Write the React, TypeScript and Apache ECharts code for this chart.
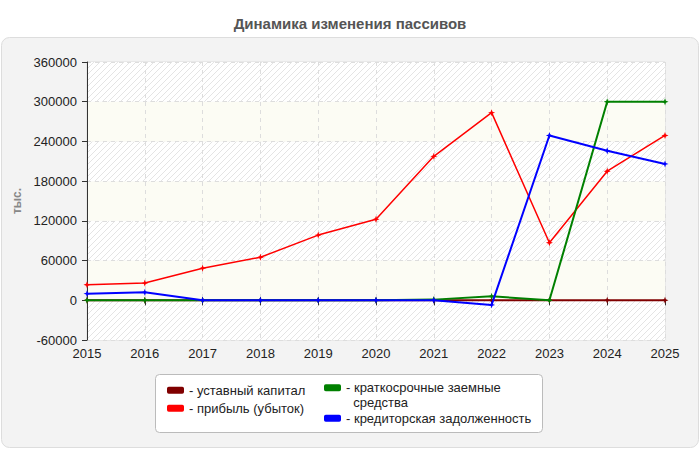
import React, { useEffect, useRef } from 'react';
import * as echarts from 'echarts';

// Годы отчётности
const years = ['2015', '2016', '2017', '2018', '2019', '2020', '2021', '2022', '2023', '2024', '2025'];

// Значения, тыс.
const ustavKapital = [0, 0, 0, 0, 0, 0, 0, 0, 0, 0, 0];
const pribyl = [23500, 26000, 48500, 65000, 98500, 122500, 217500, 283500, 87000, 195000, 249000];
const kratkoZaem = [0, 0, 0, 0, 0, 0, 1000, 6000, 0, 300000, 300000];
const kreditZadol = [10000, 12000, 0, 0, 0, 0, 0, -7000, 249000, 226000, 206000];

const seriesNames = [
  'уставный капитал',
  'прибыль (убыток)',
  'краткосрочные заемные средства',
  'кредиторская задолженность',
];
const seriesColors = ['#800000', '#ff0000', '#008000', '#0000ff'];

const FONT = '"Liberation Sans", Arial, sans-serif';

// diagonal hatch for every other band of the plot
const hatchSvg =
  '<svg xmlns="http://www.w3.org/2000/svg" width="6" height="6">' +
  '<rect width="6" height="6" fill="#ffffff"/>' +
  '<path d="M-1,1 L1,-1 M0,6 L6,0 M5,7 L7,5" stroke="#e4e4e4" stroke-width="1"/></svg>';
const hatchUrl = 'data:image/svg+xml;charset=utf-8,' + encodeURIComponent(hatchSvg);

const marker = 'path://M0,-3 L0.8,-0.8 L3,0 L0.8,0.8 L0,3 L-0.8,0.8 L-3,0 L-0.8,-0.8 Z';

const App: React.FC = () => {
  const chartRef = useRef<HTMLDivElement>(null);

  useEffect(() => {
    if (!chartRef.current) return;
    const chart = echarts.init(chartRef.current, undefined, { renderer: 'svg' });

    const values = [ustavKapital, pribyl, kratkoZaem, kreditZadol];

    // legend positions (one legend per item so the two-column layout matches)
    const legendPos = [
      { left: 167, top: 383 },
      { left: 167, top: 401 },
      { left: 324, top: 366 },
      { left: 324, top: 411 },
    ];

    const options: echarts.EChartsOption = {
      animation: false,
      title: {
        text: 'Динамика изменения пассивов',
        left: 'center',
        top: 11,
        textStyle: { fontFamily: FONT, fontSize: 15, fontWeight: 'bold', color: '#555555' },
      },
      graphic: [
        {
          type: 'rect',
          z: -10,
          silent: true,
          shape: { x: 1.5, y: 37.5, width: 697, height: 410, r: 8 },
          style: { fill: '#f3f3f3', stroke: '#dddddd', lineWidth: 1 },
        },
        {
          type: 'rect',
          z: -5,
          silent: true,
          shape: { x: 155.5, y: 374.5, width: 387, height: 58, r: 4 },
          style: { fill: '#ffffff', stroke: '#bbbbbb', lineWidth: 1 },
        },
      ],
      legend: seriesNames.map((name, i) => ({
        data: [name],
        left: legendPos[i].left,
        top: legendPos[i].top,
        padding: 0,
        selectedMode: false,
        icon: 'roundRect',
        itemWidth: 17,
        itemHeight: 7,
        itemGap: 4,
        // blank first line keeps the icon level with the first line of the wrapped name
        formatter: (n: string) =>
          n === 'краткосрочные заемные средства'
            ? ' \n- краткосрочные заемные\n  средства'
            : '- ' + n,
        textStyle: {
          fontFamily: FONT,
          fontSize: 13,
          color: '#222222',
          lineHeight: 14.5,
        },
      })),
      grid: {
        left: 87,
        right: 35,
        top: 62,
        bottom: 110,
        show: true,
        backgroundColor: 'transparent',
        borderColor: '#dddddd',
        borderWidth: 1,
      },
      xAxis: {
        type: 'category',
        data: years,
        boundaryGap: false,
        axisLine: { lineStyle: { color: '#333333', width: 1 } },
        axisTick: { show: true, length: 5, lineStyle: { color: '#333333' } },
        axisLabel: { fontFamily: FONT, fontSize: 13, color: '#222222', margin: 7 },
        splitLine: { show: true, lineStyle: { color: '#dddddd', type: [4, 4] } },
      },
      yAxis: {
        type: 'value',
        min: -60000,
        max: 360000,
        interval: 60000,
        name: 'тыс.',
        nameLocation: 'middle',
        nameGap: 59,
        nameRotate: 90,
        nameTextStyle: { fontFamily: FONT, fontSize: 12, fontWeight: 'bold', color: '#888888' },
        axisLine: { show: true, lineStyle: { color: '#333333', width: 1 } },
        axisTick: { show: true, length: 5, lineStyle: { color: '#333333' } },
        axisLabel: {
          fontFamily: FONT,
          fontSize: 13,
          color: '#222222',
          margin: 10,
          formatter: (v: number) => String(v),
        },
        splitLine: { show: true, lineStyle: { color: '#dddddd', type: [4, 4] } },
        splitArea: {
          show: true,
          areaStyle: {
            color: [
              { image: hatchUrl, repeat: 'repeat', imageWidth: 6, imageHeight: 6 } as any,
              '#fcfcf4',
            ],
          },
        },
      },
      series: seriesNames.map((name, i) => ({
        name,
        type: 'line',
        data: values[i],
        z: i + 2,
        symbol: marker,
        symbolSize: 7,
        showSymbol: true,
        itemStyle: { color: seriesColors[i] },
        lineStyle: { color: seriesColors[i], width: i === 1 ? 1.5 : 2 },
      })),
    };

    chart.setOption(options);

    return () => {
      chart.dispose();
    };
  }, []);

  return <div ref={chartRef} style={{ width: 700, height: 450, position: 'absolute', left: 0, top: 0 }} />;
};

export default App;
